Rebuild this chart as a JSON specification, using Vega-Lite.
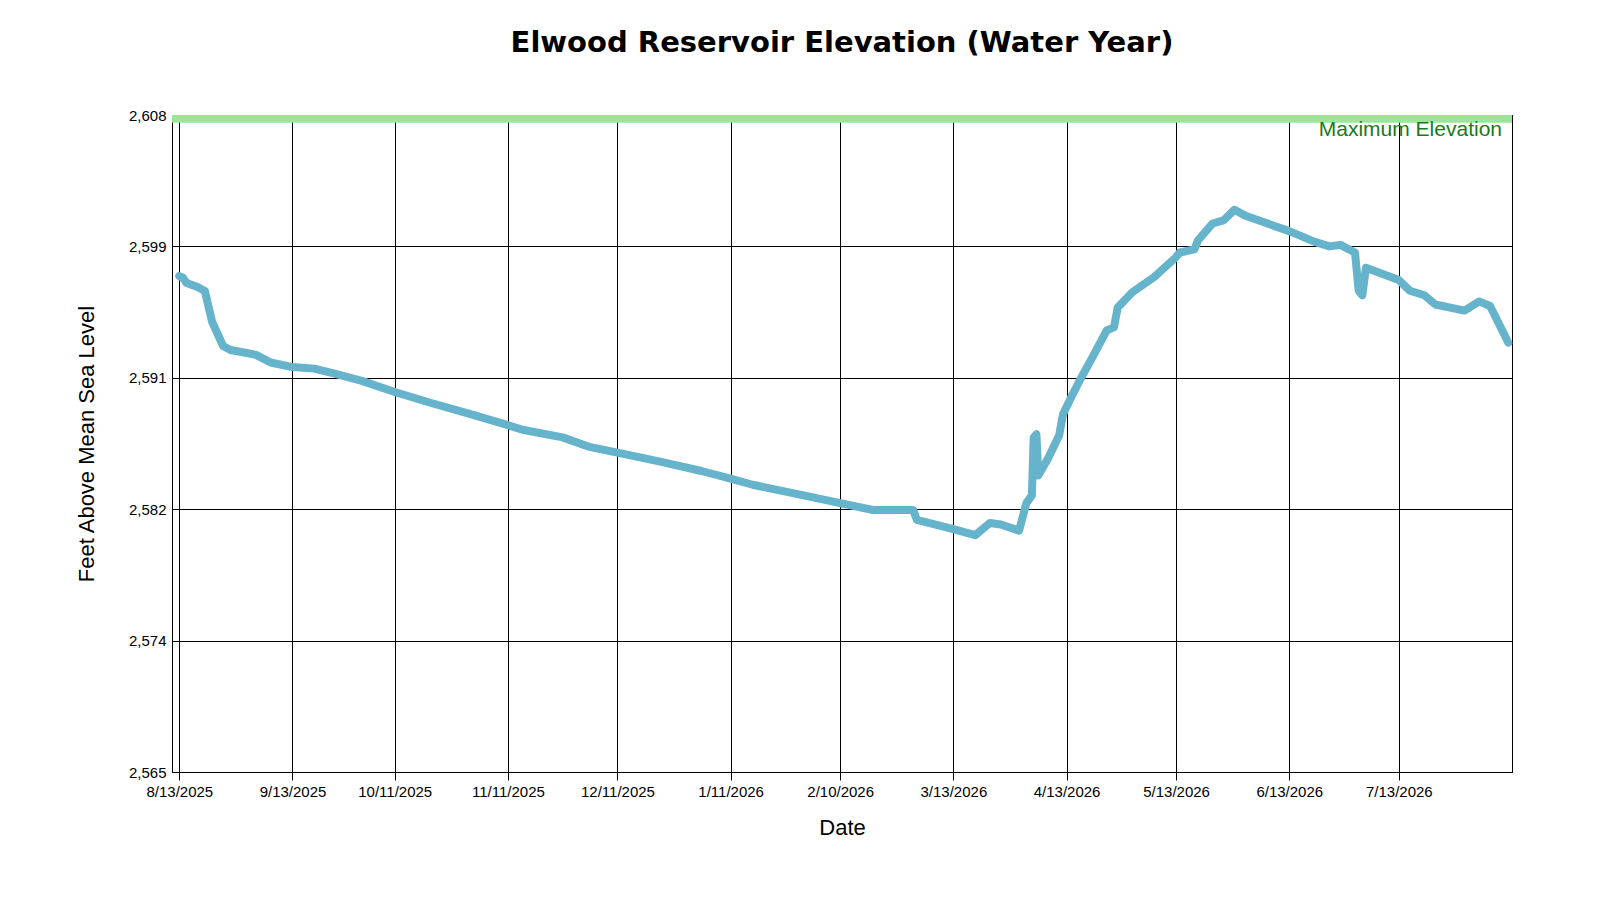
{
  "$schema": "https://vega.github.io/schema/vega-lite/v6.json",
  "width": 1340,
  "height": 657,
  "autosize": {"type": "none"},
  "padding": {"left": 172, "top": 115, "right": 88, "bottom": 128},
  "background": "white",
  "title": {"text": "Elwood Reservoir Elevation (Water Year)", "font": "DejaVu Sans", "fontSize": 29, "fontWeight": "bold", "color": "black", "offset": 50, "anchor": "middle"},
  "datasets": {
    "elev": [
      {"date": "2025-08-13", "ft": 2597.46},
      {"date": "2025-08-14", "ft": 2597.35},
      {"date": "2025-08-15", "ft": 2597.0},
      {"date": "2025-08-18", "ft": 2596.74},
      {"date": "2025-08-20", "ft": 2596.48},
      {"date": "2025-08-22", "ft": 2594.45},
      {"date": "2025-08-25", "ft": 2592.88},
      {"date": "2025-08-27", "ft": 2592.62},
      {"date": "2025-08-30", "ft": 2592.49},
      {"date": "2025-09-03", "ft": 2592.3},
      {"date": "2025-09-07", "ft": 2591.8},
      {"date": "2025-09-13", "ft": 2591.5},
      {"date": "2025-09-19", "ft": 2591.4},
      {"date": "2025-09-24", "ft": 2591.1},
      {"date": "2025-10-02", "ft": 2590.6},
      {"date": "2025-10-11", "ft": 2589.87},
      {"date": "2025-10-21", "ft": 2589.15},
      {"date": "2025-11-01", "ft": 2588.4},
      {"date": "2025-11-11", "ft": 2587.7},
      {"date": "2025-11-15", "ft": 2587.4},
      {"date": "2025-11-26", "ft": 2586.9},
      {"date": "2025-12-03", "ft": 2586.3},
      {"date": "2025-12-11", "ft": 2585.9},
      {"date": "2025-12-23", "ft": 2585.3},
      {"date": "2026-01-03", "ft": 2584.7},
      {"date": "2026-01-11", "ft": 2584.2},
      {"date": "2026-01-17", "ft": 2583.8},
      {"date": "2026-01-31", "ft": 2583.1},
      {"date": "2026-02-10", "ft": 2582.6},
      {"date": "2026-02-19", "ft": 2582.15},
      {"date": "2026-03-02", "ft": 2582.15},
      {"date": "2026-03-03", "ft": 2581.5},
      {"date": "2026-03-13", "ft": 2580.9},
      {"date": "2026-03-19", "ft": 2580.5},
      {"date": "2026-03-23", "ft": 2581.3},
      {"date": "2026-03-26", "ft": 2581.2},
      {"date": "2026-03-31", "ft": 2580.8},
      {"date": "2026-04-02", "ft": 2582.6},
      {"date": "2026-04-03T12:00:00", "ft": 2583.1},
      {"date": "2026-04-04", "ft": 2586.9},
      {"date": "2026-04-04T18:00:00", "ft": 2587.1},
      {"date": "2026-04-05T06:00:00", "ft": 2584.4},
      {"date": "2026-04-08", "ft": 2585.55},
      {"date": "2026-04-11", "ft": 2587.06},
      {"date": "2026-04-12", "ft": 2588.4},
      {"date": "2026-04-14", "ft": 2589.4},
      {"date": "2026-04-17", "ft": 2590.8},
      {"date": "2026-04-20", "ft": 2592.1},
      {"date": "2026-04-24", "ft": 2593.9},
      {"date": "2026-04-26", "ft": 2594.1},
      {"date": "2026-04-27", "ft": 2595.4},
      {"date": "2026-05-01", "ft": 2596.4},
      {"date": "2026-05-07", "ft": 2597.4},
      {"date": "2026-05-13", "ft": 2598.7},
      {"date": "2026-05-14", "ft": 2599.0},
      {"date": "2026-05-18", "ft": 2599.2},
      {"date": "2026-05-19", "ft": 2599.8},
      {"date": "2026-05-23", "ft": 2600.9},
      {"date": "2026-05-26", "ft": 2601.1},
      {"date": "2026-05-29", "ft": 2601.8},
      {"date": "2026-06-01", "ft": 2601.4},
      {"date": "2026-06-13", "ft": 2600.4},
      {"date": "2026-06-20", "ft": 2599.7},
      {"date": "2026-06-24", "ft": 2599.4},
      {"date": "2026-06-27", "ft": 2599.5},
      {"date": "2026-07-01", "ft": 2599.0},
      {"date": "2026-07-02", "ft": 2596.5},
      {"date": "2026-07-03", "ft": 2596.2},
      {"date": "2026-07-04", "ft": 2598.0},
      {"date": "2026-07-13", "ft": 2597.2},
      {"date": "2026-07-16", "ft": 2596.5},
      {"date": "2026-07-20", "ft": 2596.2},
      {"date": "2026-07-23", "ft": 2595.6},
      {"date": "2026-07-31", "ft": 2595.2},
      {"date": "2026-08-04", "ft": 2595.8},
      {"date": "2026-08-07", "ft": 2595.5},
      {"date": "2026-08-12", "ft": 2593.1}
    ],
    "maxband": [
      {"start": "2025-08-11", "end": "2026-08-13", "top": 2608, "bottom": 2607.5, "label": "Maximum Elevation"}
    ]
  },
  "layer": [
    {
      "data": {"name": "maxband"},
      "mark": {"type": "rect", "color": "#98e698"},
      "encoding": {
        "x": {"field": "start", "type": "temporal"},
        "x2": {"field": "end"},
        "y": {"field": "top", "type": "quantitative"},
        "y2": {"field": "bottom"}
      }
    },
    {
      "data": {"name": "elev"},
      "mark": {"type": "line", "color": "#66b3cc", "strokeWidth": 8, "strokeJoin": "round", "strokeCap": "round"},
      "encoding": {
        "x": {
          "field": "date", "type": "temporal", "title": "Date",
          "scale": {"type": "utc", "domain": [{"year": 2025, "month": 8, "date": 11, "utc": true}, {"year": 2026, "month": 8, "date": 13, "utc": true}]},
          "axis": {
            "labelExpr": "utcFormat(datum.value, '%-m/%-d/%Y')",
            "values": [
              {"year": 2025, "month": 8, "date": 13, "utc": true},
              {"year": 2025, "month": 9, "date": 13, "utc": true},
              {"year": 2025, "month": 10, "date": 11, "utc": true},
              {"year": 2025, "month": 11, "date": 11, "utc": true},
              {"year": 2025, "month": 12, "date": 11, "utc": true},
              {"year": 2026, "month": 1, "date": 11, "utc": true},
              {"year": 2026, "month": 2, "date": 10, "utc": true},
              {"year": 2026, "month": 3, "date": 13, "utc": true},
              {"year": 2026, "month": 4, "date": 13, "utc": true},
              {"year": 2026, "month": 5, "date": 13, "utc": true},
              {"year": 2026, "month": 6, "date": 13, "utc": true},
              {"year": 2026, "month": 7, "date": 13, "utc": true}
            ]
          }
        },
        "y": {
          "field": "ft", "type": "quantitative", "title": "Feet Above Mean Sea Level",
          "scale": {"domain": [2565, 2608], "nice": false, "zero": false},
          "axis": {"values": [2565, 2573.6, 2582.2, 2590.8, 2599.4, 2608], "format": ",.0f"}
        }
      }
    },
    {
      "data": {"name": "maxband"},
      "mark": {"type": "text", "align": "right", "baseline": "middle", "dx": -10, "dy": 0, "font": "Liberation Sans", "fontSize": 21, "color": "#1a7a1a"},
      "encoding": {
        "x": {"field": "end", "type": "temporal"},
        "y": {"datum": 2607, "type": "quantitative"},
        "text": {"field": "label"}
      }
    }
  ],
  "config": {
    "view": {"stroke": "black", "strokeWidth": 1},
    "axis": {
      "grid": true, "gridColor": "black", "gridOpacity": 1, "gridWidth": 1,
      "domainColor": "black", "tickColor": "black", "tickSize": 8,
      "labelFont": "Liberation Sans", "labelFontSize": 15, "labelColor": "black",
      "titleFont": "Liberation Sans", "titleFontSize": 22, "titleFontWeight": "normal", "titleColor": "black"
    },
    "axisX": {"labelPadding": 4, "titlePadding": 18},
    "axisY": {"titlePadding": 30, "tickSize": 0, "labelPadding": 6}
  }
}
